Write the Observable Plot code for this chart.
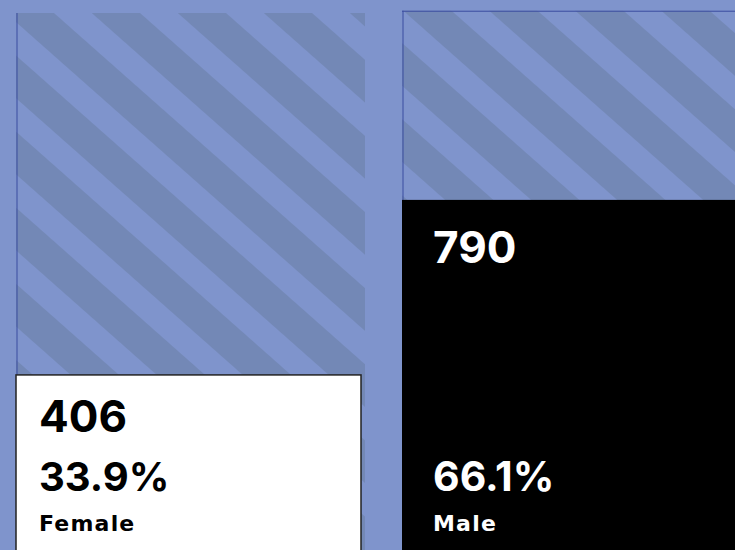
<!DOCTYPE html>
<html><head><meta charset="utf-8">
<script src="https://cdn.jsdelivr.net/npm/d3@7"></script>
<script src="https://cdn.jsdelivr.net/npm/@observablehq/plot@0.6"></script>
<style>
html,body{margin:0;padding:0;background:#7f94cc;overflow:hidden;}
#chart svg{display:block;}
</style></head><body><div id="chart"></div>
<script>
// Data
const sexes = ["Female", "Male"];
const counts = [406, 790];
const shares = ["33.9%", "66.1%"];
const scaleMax = 1200;            // top of the hatched background columns
const frameTops = [1200, 1205];

const rows = sexes.map((s, i) => ({sex: s, count: counts[i], share: shares[i], top: frameTops[i], base: 0}));
const F = rows.filter(d => d.sex === "Female");
const M = rows.filter(d => d.sex === "Male");

// Styles
const BG = "#7f94cc", DARK = "#7388b6", EDGE = "#3b4da0";
const numFont = "Inter, 'DejaVu Sans', sans-serif";
const lblFont = "'DejaVu Sans', sans-serif";
const bw = 349;

const plot = Plot.plot({
  width: 735, height: 550, margin: 0,
  style: {background: BG, overflow: "hidden"},
  x: {domain: sexes, range: [16, 751], paddingInner: 0.096, paddingOuter: 0, axis: null},
  y: {domain: [0, scaleMax], range: [560, 13], axis: null},
  marks: [
    Plot.barY(F, {x: "sex", y: "top", fill: "url(#stripeF)"}),
    Plot.barY(M, {x: "sex", y: "top", fill: "url(#stripeM)"}),
    Plot.ruleX(rows, {x: "sex", y1: "base", y2: "top", dx: -bw / 2 + 0.5, stroke: EDGE, strokeWidth: 1}),
    Plot.tickY(M, {x: "sex", y: "top", stroke: EDGE, strokeWidth: 1}),
    Plot.barY(F, {x: "sex", y: "count", fill: "white", stroke: "#222", strokeWidth: 1.5, insetRight: 4}),
    Plot.barY(M, {x: "sex", y: "count", fill: "black"}),
    Plot.text(F, {x: "sex", y: "count", text: d => String(d.count), fill: "black", textAnchor: "start", lineAnchor: "bottom", dx: -152, dy: 57, fontSize: 44, fontWeight: 700, fontFamily: numFont}),
    Plot.text(M, {x: "sex", y: "count", text: d => String(d.count), fill: "white", textAnchor: "start", lineAnchor: "bottom", dx: -144, dy: 63, fontSize: 44, fontWeight: 700, fontFamily: numFont}),
    Plot.text(F, {x: "sex", y: "base", text: "share", fill: "black", textAnchor: "start", lineAnchor: "bottom", dx: -152, dy: -70, fontSize: 40, fontWeight: 700, fontFamily: numFont}),
    Plot.text(M, {x: "sex", y: "base", text: "share", fill: "white", textAnchor: "start", lineAnchor: "bottom", dx: -144, dy: -70, fontSize: 41, fontWeight: 700, fontFamily: numFont}),
    Plot.text(F, {x: "sex", y: "base", text: "sex", fill: "black", textAnchor: "start", lineAnchor: "bottom", dx: -152, dy: -30, fontSize: 22, fontWeight: 700, fontFamily: lblFont}),
    Plot.text(M, {x: "sex", y: "base", text: "sex", fill: "white", textAnchor: "start", lineAnchor: "bottom", dx: -144, dy: -30, fontSize: 22, fontWeight: 700, fontFamily: lblFont})
  ]
});

// letter spacing for the category labels (the 22px text groups)
d3.select(plot).selectAll("g").filter(function () {
  return this.getAttribute("font-size") === "22";
}).attr("letter-spacing", "1.2").selectAll("text").style("letter-spacing", "1.2px");

// Hatch patterns
const defs = d3.select(plot).insert("defs", ":first-child");
function stripe(id, tx, ty) {
  const p = defs.append("pattern").attr("id", id)
    .attr("patternUnits", "userSpaceOnUse")
    .attr("width", 1200).attr("height", 57)
    .attr("patternTransform", `translate(${tx},${ty}) rotate(41.5)`);
  p.append("rect").attr("x", 0).attr("y", 0).attr("width", 1200).attr("height", 57).attr("fill", BG);
  p.append("rect").attr("x", 0).attr("y", 25).attr("width", 1200).attr("height", 32).attr("fill", DARK);
}
stripe("stripeF", 17, 23);
stripe("stripeM", 403, 10.5);

document.getElementById("chart").appendChild(plot);
</script></body></html>
